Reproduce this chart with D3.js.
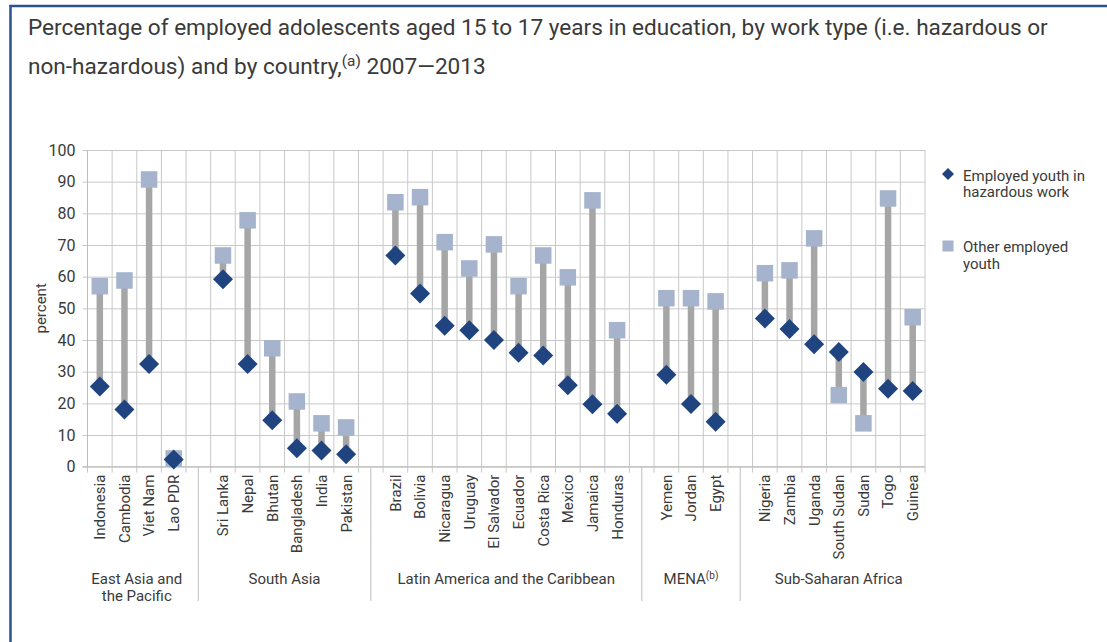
<!DOCTYPE html>
<html>
<head>
<meta charset="utf-8">
<script src="https://cdn.jsdelivr.net/npm/d3@7"></script>
<style>
  html, body { margin: 0; padding: 0; background: #fff; }
  svg { display: block; font-family: Roboto, "Liberation Sans", Arial, sans-serif; }
</style>
</head>
<body>
<svg id="chart" width="1107" height="642"></svg>
<script>
// ---- Data ----
const groupNames = ["East Asia and|the Pacific", "South Asia", "Latin America and the Caribbean", "MENA", "Sub-Saharan Africa"];
const countries = [
  "Indonesia", "Cambodia", "Viet Nam", "Lao PDR",
  "Sri Lanka", "Nepal", "Bhutan", "Bangladesh", "India", "Pakistan",
  "Brazil", "Bolivia", "Nicaragua", "Uruguay", "El Salvador", "Ecuador", "Costa Rica", "Mexico", "Jamaica", "Honduras",
  "Yemen", "Jordan", "Egypt",
  "Nigeria", "Zambia", "Uganda", "South Sudan", "Sudan", "Togo", "Guinea"
];
const countryGroup = [
  0, 0, 0, 0,
  1, 1, 1, 1, 1, 1,
  2, 2, 2, 2, 2, 2, 2, 2, 2, 2,
  3, 3, 3,
  4, 4, 4, 4, 4, 4, 4
];
const hazardous = [
  25.3, 18.1, 32.4, 2.3,
  59.2, 32.4, 14.7, 5.8, 5.1, 3.9,
  66.7, 54.7, 44.5, 43.1, 40.0, 36.0, 35.1, 25.7, 19.7, 16.7,
  29.0, 19.8, 14.2,
  46.8, 43.5, 38.7, 36.2, 29.9, 24.6, 23.9
];
const otherEmployed = [
  57.0, 58.8, 90.7, 2.6,
  66.7, 77.8, 37.4, 20.6, 13.7, 12.4,
  83.5, 85.1, 70.9, 62.6, 70.2, 57.0, 66.7, 59.8, 84.1, 43.1,
  53.2, 53.2, 52.2,
  61.1, 62.0, 72.1, 22.6, 13.7, 84.7, 47.2
];
const yTicks = [0, 10, 20, 30, 40, 50, 60, 70, 80, 90, 100];
const legendLabels = ["Employed youth in|hazardous work", "Other employed|youth"];

// ---- Build slots (countries plus a spacer between groups) ----
const slots = [];
countries.forEach((c, i) => {
  if (i > 0 && countryGroup[i] !== countryGroup[i - 1]) slots.push({ key: "gap" + countryGroup[i], gap: true });
  slots.push({ key: c, gap: false, i });
});

const svg = d3.select("#chart");
const pLeft = 87.5, pRight = 925, pTop = 150, pBottom = 466.7;

const x = d3.scaleBand().domain(slots.map(s => s.key)).range([pLeft, pRight]).padding(0);
const y = d3.scaleLinear().domain([0, 100]).range([pBottom, pTop]);

const gridColor = "#c8c8c8";
const textColor = "#3a3a3a";
const FONT = "Roboto, 'Liberation Sans', Arial, sans-serif";

// ---- Frame ----
svg.append("line").attr("x1", 10.5).attr("x2", 10.5).attr("y1", 5).attr("y2", 642)
  .attr("stroke", "#2c5191").attr("stroke-width", 2.5);
svg.append("line").attr("x1", 9.5).attr("x2", 1107).attr("y1", 6).attr("y2", 6)
  .attr("stroke", "#2c5191").attr("stroke-width", 2.5);

// ---- Title ----
const titleG = svg.append("g").attr("transform", "translate(28,0)");
const t1 = titleG.append("text").attr("x", 0).attr("y", 35).attr("font-size", 22).attr("fill", textColor)
  .text("Percentage of employed adolescents aged 15 to 17 years in education, by work type (i.e. hazardous or");
const t2 = titleG.append("text").attr("x", 0).attr("y", 74).attr("font-size", 22).attr("fill", textColor);
t2.append("tspan").text("non-hazardous) and by country,");
t2.append("tspan").attr("font-size", 15).attr("dy", -8).text("(a)");
t2.append("tspan").attr("dy", 8).text(" 2007\u20142013");
const w1 = t1.node().getComputedTextLength();
const sx = w1 > 0 ? 1020 / w1 : 1;
titleG.attr("transform", `translate(28,0) scale(${sx},1)`);

// ---- Horizontal gridlines + y labels via axis ----
const yAxisG = svg.append("g").attr("transform", `translate(${pLeft - 5},0)`)
  .call(d3.axisLeft(y).tickValues(yTicks).tickSize(-(pRight - pLeft + 5)).tickPadding(7));
yAxisG.select(".domain").remove();
yAxisG.selectAll(".tick line").attr("stroke", gridColor).attr("stroke-width", 1);
yAxisG.selectAll(".tick text").attr("font-size", 16).attr("fill", textColor).attr("font-family", FONT);

// ---- Vertical gridlines at slot boundaries ----
const bounds = slots.map(s => x(s.key)).concat([pRight]);
svg.append("g").selectAll("line").data(bounds).join("line")
  .attr("x1", d => d).attr("x2", d => d)
  .attr("y1", pTop).attr("y2", pBottom + 6)
  .attr("stroke", gridColor).attr("stroke-width", 1);

// axis lines
svg.append("line").attr("x1", pLeft).attr("x2", pLeft).attr("y1", pTop).attr("y2", pBottom)
  .attr("stroke", "#bdbdbd");
svg.append("line").attr("x1", pLeft - 5).attr("x2", pRight).attr("y1", pBottom).attr("y2", pBottom)
  .attr("stroke", "#bdbdbd");

// ---- Group separators (center of spacer slots) ----
svg.append("g").selectAll("line").data(slots.filter(s => s.gap)).join("line")
  .attr("x1", d => x(d.key) + x.bandwidth() / 2).attr("x2", d => x(d.key) + x.bandwidth() / 2)
  .attr("y1", pBottom).attr("y2", 601)
  .attr("stroke", gridColor).attr("stroke-width", 1.2);

// ---- Category labels via bottom axis ----
const xAxisG = svg.append("g").attr("transform", `translate(0,${pBottom})`)
  .call(d3.axisBottom(x).tickSize(0).tickFormat(k => k.startsWith("gap") ? "" : k));
xAxisG.select(".domain").remove();
xAxisG.selectAll(".tick text")
  .attr("font-size", 15).attr("fill", textColor).attr("font-family", FONT)
  .attr("text-anchor", "end")
  .attr("transform", "rotate(-90)")
  .attr("x", -8).attr("y", 0).attr("dy", "0.36em");

// ---- Group labels ----
groupNames.forEach((name, g) => {
  const members = slots.filter(s => !s.gap && countryGroup[s.i] === g);
  const cx = (x(members[0].key) + x(members[members.length - 1].key) + x.bandwidth()) / 2;
  const lines = name.split("|");
  const txt = svg.append("text").attr("x", cx).attr("y", 584).attr("text-anchor", "middle")
    .attr("font-size", 15).attr("fill", textColor);
  lines.forEach((ln, li) => {
    txt.append("tspan").attr("x", cx).attr("dy", li === 0 ? 0 : 16.5).text(ln);
  });
  if (name === "MENA") {
    txt.append("tspan").attr("font-size", 10).attr("dy", -5).text("(b)");
  }
});

// ---- y axis title ----
svg.append("text").attr("transform", `translate(46,${(pTop + pBottom) / 2}) rotate(-90)`)
  .attr("text-anchor", "middle").attr("font-size", 15).attr("fill", textColor).text("percent");

// ---- Marks ----
const pts = slots.filter(s => !s.gap).map(s => ({
  key: s.key, h: hazardous[s.i], o: otherEmployed[s.i]
}));
const cxOf = d => x(d.key) + x.bandwidth() / 2;

svg.append("g").selectAll("line").data(pts).join("line")
  .attr("x1", cxOf).attr("x2", cxOf)
  .attr("y1", d => y(d.h)).attr("y2", d => y(d.o))
  .attr("stroke", "#a6a6a6").attr("stroke-width", 6.5);

const sq = 16.5;
svg.append("g").selectAll("rect").data(pts).join("rect")
  .attr("x", d => cxOf(d) - sq / 2).attr("y", d => y(d.o) - sq / 2)
  .attr("width", sq).attr("height", sq).attr("fill", "#a5b3cc");

const dm = 20 / 2;
svg.append("g").selectAll("path").data(pts).join("path")
  .attr("d", d => {
    const cx = cxOf(d), cy = y(d.h);
    return `M${cx},${cy - dm}L${cx + dm},${cy}L${cx},${cy + dm}L${cx - dm},${cy}Z`;
  })
  .attr("fill", "#1f4480");

// ---- Legend ----
const lg = svg.append("g");
const ldm = 6;
lg.append("path").attr("d", `M948,${174 - ldm}L${948 + ldm},174L948,${174 + ldm}L${948 - ldm},174Z`).attr("fill", "#1f4480");
lg.append("rect").attr("x", 948 - 5.5).attr("y", 246 - 5.5).attr("width", 11).attr("height", 11).attr("fill", "#a5b3cc");
[[180.5, 0], [252.3, 1]].forEach(([by, li]) => {
  const t = lg.append("text").attr("x", 963).attr("y", by).attr("font-size", 15).attr("fill", textColor);
  legendLabels[li].split("|").forEach((ln, k) => {
    t.append("tspan").attr("x", 963).attr("dy", k === 0 ? 0 : 16.7).text(ln);
  });
});
</script>
</body>
</html>
